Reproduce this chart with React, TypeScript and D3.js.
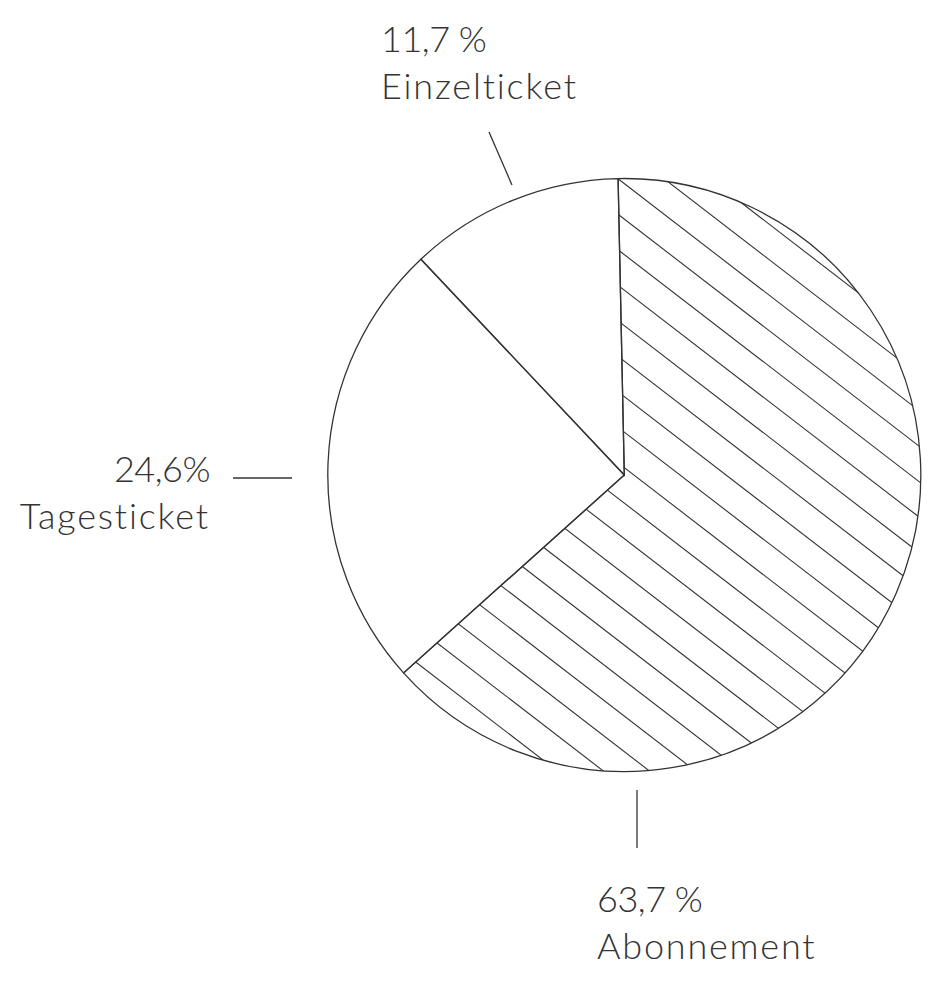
import React from "react";
import * as d3 from "d3";

const categories = ["Abonnement", "Tagesticket", "Einzelticket"];
const values = [63.7, 24.6, 11.7];
const valueLabels = ["63,7 %", "24,6%", "11,7 %"];
const hatched = [true, false, false];

const W = 929;
const H = 984;
const cx = 624.3;
const cy = 475;
const R = 296.5;
const rot = (-1.2 * Math.PI) / 180;
const ink = "#333";

// label layout (leader line endpoints + text anchor)
const labelLayout = [
  { x1: 637, y1: 790, x2: 637, y2: 848, tx: 597, ty: 912, anchor: "start" },
  { x1: 233, y1: 478, x2: 292, y2: 478, tx: 210, ty: 482, anchor: "end" },
  { x1: 489, y1: 132, x2: 512, y2: 185, tx: 381, ty: 52, anchor: "start" },
];

export default function App() {
  const pie = d3
    .pie<number>()
    .sort(null)
    .value((d) => d)
    .startAngle(rot)
    .endAngle(rot + 2 * Math.PI);
  const arcs = pie(values);
  const arc = d3.arc<d3.PieArcDatum<number>>().innerRadius(0).outerRadius(R);

  // hatch lines: slope 0.77, vertical spacing 35.5, one through (618.3,179)
  const slope = 0.77;
  const step = 35.5;
  const x0 = 618.3;
  const y0 = 179;
  const hatchLines: { x1: number; y1: number; x2: number; y2: number }[] = [];
  const xa = cx - R - 10;
  const xb = cx + R + 10;
  for (let k = -40; k <= 40; k++) {
    const c = y0 + k * step;
    hatchLines.push({
      x1: xa,
      y1: c + slope * (xa - x0),
      x2: xb,
      y2: c + slope * (xb - x0),
    });
  }

  const font = "Lato, 'Open Sans', sans-serif";

  return (
    <svg
      width={W}
      height={H}
      style={{ position: "absolute", left: 0, top: 0, background: "#fff" }}
    >
      <defs>
        {arcs.map((a, i) => (
          <clipPath id={`clip-${i}`} key={i}>
            <path d={arc(a) || ""} transform={`translate(${cx},${cy})`} />
          </clipPath>
        ))}
      </defs>
      <g>
        {arcs.map((a, i) => (
          <g key={i}>
            <path
              d={arc(a) || ""}
              transform={`translate(${cx},${cy})`}
              fill="#fff"
            />
            {hatched[i] && (
              <g clipPath={`url(#clip-${i})`}>
                {hatchLines.map((l, j) => (
                  <line
                    key={j}
                    x1={l.x1}
                    y1={l.y1}
                    x2={l.x2}
                    y2={l.y2}
                    stroke={ink}
                    strokeWidth={1.1}
                  />
                ))}
              </g>
            )}
          </g>
        ))}
        {arcs.map((a, i) => (
          <path
            key={`o-${i}`}
            d={arc(a) || ""}
            transform={`translate(${cx},${cy})`}
            fill="none"
            stroke={ink}
            strokeWidth={1.3}
            strokeLinejoin="miter"
          />
        ))}
      </g>
      <g fontFamily={font} fontWeight={300} fontSize={36} fill={ink}>
        {labelLayout.map((l, i) => (
          <g key={i}>
            <line
              x1={l.x1}
              y1={l.y1}
              x2={l.x2}
              y2={l.y2}
              stroke={ink}
              strokeWidth={1.3}
            />
            <text
              x={l.tx}
              y={l.ty}
              textAnchor={l.anchor as any}
              letterSpacing={-0.5}
            >
              {valueLabels[i]}
            </text>
            <text
              x={l.tx}
              y={l.ty + 47}
              textAnchor={l.anchor as any}
              letterSpacing={1.8}
            >
              {categories[i]}
            </text>
          </g>
        ))}
      </g>
    </svg>
  );
}
